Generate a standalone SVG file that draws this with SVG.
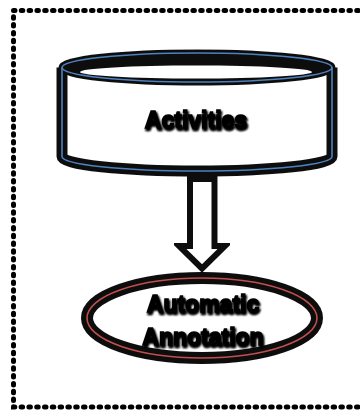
<svg xmlns="http://www.w3.org/2000/svg" width="360" height="414" viewBox="0 0 360 414">
  <style>
    .frame { fill: none; stroke: #000; stroke-width: 5; stroke-linecap: round; stroke-dasharray: 1.5 6.3; }
    .label { font-family: "Liberation Sans", Arial, sans-serif; font-weight: bold; font-size: 23px; fill: #000; stroke: #000; stroke-width: 1.4; text-anchor: middle; filter: url(#glow); }
    .blue { fill: none; stroke: #4f81bd; stroke-width: 1.6; }
    .red { fill: none; stroke: #c0504d; stroke-width: 1.6; }
  </style>
  <defs>
    <filter id="glow" x="-20%" y="-40%" width="140%" height="180%">
      <feGaussianBlur in="SourceAlpha" stdDeviation="1.3" result="b"/>
      <feOffset in="b" dx="1" dy="2" result="o"/>
      <feMerge><feMergeNode in="o"/><feMergeNode in="o"/><feMergeNode in="SourceGraphic"/></feMerge>
    </filter>
    <filter id="soft" x="-10%" y="-20%" width="120%" height="140%">
      <feGaussianBlur stdDeviation="0.6"/>
    </filter>
  </defs>

  <rect width="360" height="414" fill="#fff"/>

  <!-- dotted frame, open on the right -->
  <path class="frame" d="M366 10.5 H13.5 V407 H366"/>

  <!-- data store: Activities -->
  <g id="activities">
    <g filter="url(#soft)">
      <path d="M62 67.5 V156.5 A135 14.5 0 0 0 332 156.5 V67.5" fill="#fff" stroke="#111" stroke-width="11"/>
      <ellipse cx="197" cy="67.5" rx="135" ry="14.5" fill="#111" stroke="#111" stroke-width="7"/>
      <ellipse cx="196" cy="72" rx="116" ry="6.5" fill="#fff"/>
    </g>
    <path class="blue" d="M62 67.5 V156.5 A135 14.5 0 0 0 332 156.5 V67.5"/>
    <ellipse class="blue" cx="197" cy="67.5" rx="135" ry="14.5"/>
    <text class="label" x="196" y="128">Activities</text>
  </g>

  <!-- connector -->
  <g id="connectors">
    <path d="M190 179 H214.5 V246 H225 L202 268.5 L179 246 H190 Z" fill="#fff" stroke="#111" stroke-width="6" stroke-linejoin="miter" filter="url(#soft)"/>
  </g>

  <!-- process: Automatic Annotation -->
  <g id="automatic-annotation">
    <ellipse cx="202" cy="318" rx="115" ry="40" fill="#fff" stroke="#111" stroke-width="12" filter="url(#soft)"/>
    <ellipse class="red" cx="202" cy="318" rx="115" ry="40"/>
    <text class="label" x="203" y="312">Automatic</text>
    <text class="label" x="203" y="345">Annotation</text>
  </g>
</svg>
